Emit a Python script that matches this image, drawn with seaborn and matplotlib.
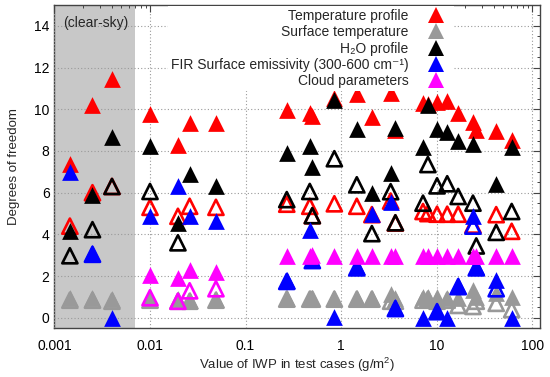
import numpy as np
import pandas as pd
import matplotlib
matplotlib.use("Agg")
import matplotlib.pyplot as plt
import seaborn as sns
from matplotlib.lines import Line2D
from matplotlib.ticker import MultipleLocator, FuncFormatter, LogLocator, NullFormatter

sns.set_theme(style="white")
plt.rcParams['font.family'] = ['Liberation Sans', 'DejaVu Sans']
plt.rcParams['mathtext.default'] = 'regular'

nan = np.nan

# IWP of each test case (g/m2), clear-sky cases sit in the grey band
iwp = [0.00145, 0.0025, 0.004, 0.01, 0.0196, 0.026, 0.049, 0.27, 0.47, 0.50,
       0.85, 1.46, 2.1, 3.3, 3.7, 7.2, 8.1, 10.1, 12.9, 16.8, 24, 26, 42, 61]

temp_fill = [7.4, 10.2, 11.45, 9.77, 8.3, 9.34, 9.35, 9.95, 9.83, 9.7, 10.55, 10.75,
             9.65, 10.8, 9.0, 10.3, 10.25, 10.37, 10.4, 9.8, 9.4, 9.0, 8.95, 8.55]
temp_open = [4.4, 6.0, 6.3, 5.3, 4.87, 5.35, 5.3, 5.45, 5.35, 4.9, 5.47, 5.35,
             4.95, 5.6, 4.55, 5.1, 5.0, 4.97, 4.97, 4.97, 4.45, nan, 4.95, 4.15]
surf_fill = [0.95, 0.95, 0.9, 0.9, 0.9, 0.88, 0.9, 0.95, 0.95, 0.95, 0.97, 0.97,
             0.95, 1.15, 0.95, 1.0, 1.0, 1.0, 0.95, 0.95, 1.35, 1.0, 1.2, 1.0]
surf_open = [0.85, 0.85, 0.8, 0.85, 0.8, 0.8, 0.85, 0.9, 0.9, 0.9, 0.9, 0.9,
             0.9, 0.8, 0.8, 0.85, 0.9, 0.8, 0.85, 0.6, 0.55, 0.8, 0.7, 0.4]
h2o_fill = [4.15, 5.9, 8.67, 8.22, 4.55, 6.9, 6.3, 7.9, 8.25, 7.23, 10.45, 9.07,
            6.0, 6.96, 9.1, 8.2, 10.2, 9.05, 8.93, 8.5, 8.35, nan, 6.4, 8.2]
h2o_open = [2.98, 4.23, 6.3, 6.06, 3.6, nan, nan, 5.67, 6.06, 4.9, 7.63, 6.38,
            4.04, 6.05, 4.56, 5.5, 7.35, 6.33, 6.43, 5.82, 5.5, 3.45, 4.1, 5.1]
fir_fill = [6.97, 3.11, 0.0, 4.87, 6.3, 4.87, 4.63, 1.83, 4.2, 2.8, 0.05, 2.47,
            5.0, 5.57, 0.5, 0.0, nan, 0.35, 0.0, 1.6, 4.9, 2.5, 1.8, 0.0]
fir_open = [nan, 3.05, nan, nan, nan, nan, nan, 1.75, nan, 2.75, nan, 2.4,
            nan, nan, 0.45, nan, nan, 0.3, nan, 1.5, 4.4, 2.4, 1.4, nan]
cloud_fill = [nan, nan, nan, 2.07, 1.93, 2.3, 2.2, 2.95, 2.95, 3.0, 2.95, 2.95,
              2.95, 2.95, 2.95, 2.95, 2.95, 2.95, 2.95, 2.95, 2.95, 2.95, 2.95, 2.95]
cloud_open = [nan, nan, nan, 0.97, 0.8, 1.3, 1.4, nan, nan, nan, nan, nan,
              nan, nan, nan, nan, nan, nan, nan, nan, nan, nan, nan, nan]

labels = ["Temperature profile", "Surface temperature", "H\u2082O profile",
          "FIR Surface emissivity (300-600 cm\u207b\u00b9)", "Cloud parameters"]
colors = ["#ff0000", "#999999", "#000000", "#0000ff", "#ff00ff"]
series = [(temp_fill, temp_open), (surf_fill, surf_open), (h2o_fill, h2o_open),
          (fir_fill, fir_open), (cloud_fill, cloud_open)]

fig = plt.figure(figsize=(5.5, 3.77), dpi=100)
ax = fig.add_axes([0.099, 0.129, 0.883, 0.858])

ax.axvspan(0.001, 0.007, color="#c8c8c8", zorder=0, lw=0)

ms = 145
for (fill, opn), col in zip(series, colors):
    df_f = pd.DataFrame({"iwp": iwp, "dof": fill}).dropna()
    df_o = pd.DataFrame({"iwp": iwp, "dof": opn}).dropna()
    sns.scatterplot(data=df_f, x="iwp", y="dof", marker="^", s=ms, color=col,
                    linewidth=0, ax=ax, zorder=3, legend=False)
    ax.scatter(df_o["iwp"], df_o["dof"], marker="^", s=ms * 0.82, facecolors="none",
               edgecolors=col, linewidths=1.9, zorder=3)

ax.set_xscale("log")
ax.set_xlim(0.001, 121)
ax.set_ylim(-0.5, 15)
ax.yaxis.set_major_locator(MultipleLocator(2))
ax.yaxis.set_minor_locator(MultipleLocator(0.5))
ax.xaxis.set_major_locator(LogLocator(base=10, numticks=10))
ax.xaxis.set_minor_locator(LogLocator(base=10, subs=np.arange(2, 10), numticks=20))
ax.xaxis.set_major_formatter(FuncFormatter(lambda v, p: "{:g}".format(v)))
ax.xaxis.set_minor_formatter(NullFormatter())

ax.grid(True, which="major", ls=(0, (1, 2)), color="#9a9a9a", lw=0.8, zorder=1)
ax.set_axisbelow(False)
ax.tick_params(which="both", direction="in", top=True, right=True, colors="#444444",
               labelcolor="black", labelsize=10)
ax.tick_params(which="major", length=5, width=0.8)
ax.tick_params(which="minor", length=2.5, width=0.7)
ax.tick_params(axis="x", which="major", pad=8)
for sp in ax.spines.values():
    sp.set_color("#444444")
    sp.set_linewidth(1.0)

ax.set_xlabel("Value of IWP in test cases (g/m$^2$)", fontsize=9.5, labelpad=2)
ax.set_ylabel("Degrees of freedom", fontsize=9.5, labelpad=10)

ax.text(0.018, 0.944, "(clear-sky)", transform=ax.transAxes, fontsize=10,
        ha="left", va="center", zorder=4)

handles = [Line2D([], [], ls="none", marker="^", markersize=12, color=c, mew=0)
           for c in colors]
leg = ax.legend(handles, labels, loc="upper right", bbox_to_anchor=(0.825, 1.0),
                markerfirst=False, fontsize=10, frameon=True, fancybox=False,
                framealpha=1, facecolor="white", edgecolor="none", labelspacing=0.16,
                handlelength=2.2, handletextpad=0.85, borderpad=0.2, borderaxespad=0.1)
leg.set_zorder(5)

fig.savefig("out.png", dpi=100)
